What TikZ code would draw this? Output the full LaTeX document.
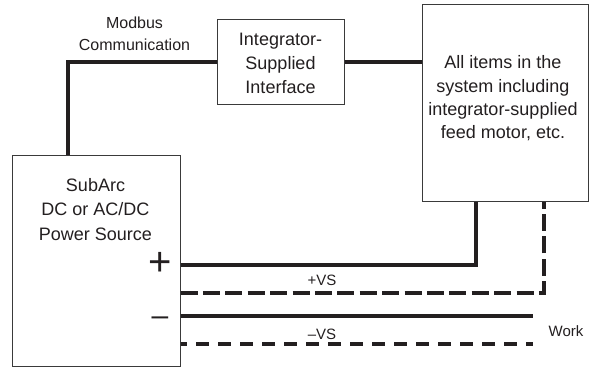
\documentclass[tikz,border=0pt]{standalone}
\usepackage{fontspec}
\setmainfont{Liberation Sans}
\definecolor{ink}{HTML}{231F20}
\definecolor{boxc}{HTML}{3A3A3A}
\begin{document}
\begin{tikzpicture}[x=1pt,y=-1pt,
  box/.style={draw=boxc, line width=1pt, inner sep=0pt, fill=white},
  wire/.style={line width=4pt, draw=ink},
  dashA/.style={line width=4pt, draw=ink, dash pattern=on 17pt off 5.4pt},
  dashB/.style={line width=4pt, draw=ink, dash pattern=on 12.5pt off 9.5pt, dash phase=6.5pt},
  big/.style={font=\fontsize{18}{24}\selectfont, text=ink, align=center, inner sep=0pt},
  mid/.style={font=\fontsize{16}{22}\selectfont, text=ink, align=center, inner sep=0pt},
  small/.style={font=\fontsize{15}{18}\selectfont, text=ink, inner sep=0pt}]
\useasboundingbox (0,0) rectangle (596,367);
% boxes
\node[box, minimum width=168pt, minimum height=211pt] (src) at (96,260.5) {};
\node[box, minimum width=127pt, minimum height=85pt] (iface) at (280.5,61.5) {};
\node[box, minimum width=166pt, minimum height=197pt] (sys) at (505,102.5) {};
% coordinates
\coordinate (mx) at (68,61.5);
\coordinate (p1) at (476,265);
\coordinate (v1) at (544,293);
\coordinate (m1) at (533,316);
\coordinate (v2) at (533,344);
% wires
\draw[wire] (mx |- src.north) -- (mx) -- (iface.west);
\draw[wire] (iface.east) -- (iface.east -| sys.west);
\draw[wire] (src.east |- p1) -- (p1) -- (p1 |- sys.south);
\draw[dashA] (src.east |- v1) -- (v1) -- (v1 |- sys.south);
\draw[wire] (src.east |- m1) -- (m1);
\draw[dashB] (src.east |- v2) -- (v2);
% texts
\node[big, font=\fontsize{18}{24.5}\selectfont] (srct) at (95.5,209.5) {SubArc\\DC or AC/DC\\Power Source};
\node[big] (ifacet) at (280.5,63) {Integrator-\\Supplied\\Interface};
\node[big, font=\fontsize{18}{23.3}\selectfont] (syst) at (503,98.5) {All items in the\\system including\\integrator-supplied\\feed motor, etc.};
\node[mid] (modt) at (134.5,34) {Modbus\\Communication};
\node[small] (pvs) at (322,280) {+VS};
\node[small] (mvs) at (322,334) {–VS};
\node[small] (work) at (566,331) {Work};
\node[text=ink, inner sep=0pt, font=\fontsize{40}{40}\selectfont] (plus) at (160,264) {+};
\node[text=ink, inner sep=0pt, font=\fontsize{30}{30}\selectfont] (minus) at (160,321) {–};
\end{tikzpicture}
\end{document}
